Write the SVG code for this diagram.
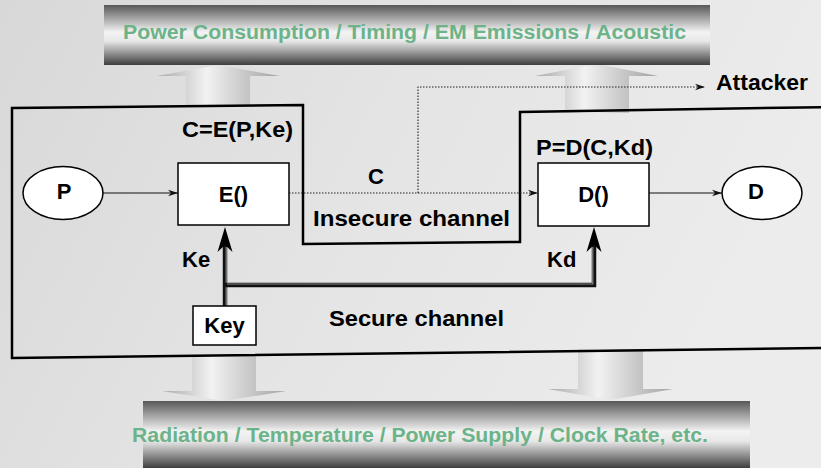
<svg xmlns="http://www.w3.org/2000/svg" width="821" height="468" viewBox="0 0 821 468">
<defs>
<linearGradient id="bg" x1="0" y1="0" x2="1" y2="0.3">
<stop offset="0" stop-color="#d8d8d8"/>
<stop offset="0.5" stop-color="#e4e4e4"/>
<stop offset="1" stop-color="#ececec"/>
</linearGradient>
<linearGradient id="bar" x1="0" y1="0" x2="0" y2="1">
<stop offset="0" stop-color="#585858"/>
<stop offset="0.45" stop-color="#f3f3f3"/>
<stop offset="0.6" stop-color="#e8e8e8"/>
<stop offset="1" stop-color="#3e3e3e"/>
</linearGradient>
<linearGradient id="blk" x1="0" y1="0" x2="1" y2="0">
<stop offset="0" stop-color="#a9a9a9"/>
<stop offset="0.4" stop-color="#f2f2f2"/>
<stop offset="1" stop-color="#a2a2a2"/>
</linearGradient>
<marker id="ah" markerUnits="userSpaceOnUse" markerWidth="11" markerHeight="8" refX="10" refY="4" orient="auto">
<path d="M0,0.8 L10,4 L0,7.2 L3,4 Z" fill="#111"/>
</marker>
<style>
.t{font-family:"Liberation Sans",Arial,sans-serif;font-weight:bold;fill:#000;font-size:22px}
.g{font-family:"Liberation Sans",Arial,sans-serif;font-weight:bold;fill:#6cb389;font-size:20px}
.box{fill:#fff;stroke:#000;stroke-width:1.5}
.thin{fill:none;stroke:#111;stroke-width:1.2}
.dot{fill:none;stroke:#222;stroke-width:1.1;stroke-dasharray:1.5 1.5}
.dbl{fill:none;stroke:#111;stroke-width:4.5}
.dbli{fill:none;stroke:#8c8c8c;stroke-width:1.2}
</style>
</defs>
<rect x="0" y="0" width="821" height="468" fill="url(#bg)"/>
<g id="block-arrows">
<path d="M186,106 V76 H157 L218,65 L280,76 H250 V106 Z" fill="url(#blk)"/>
<path d="M565,113 V76 H535 L597,64 L658,76 H629 V113 Z" fill="url(#blk)"/>
<path d="M192,356 V391 H162 L224,401 L286,391 H256 V356 Z" fill="url(#blk)"/>
<path d="M578,349 V389 H548 L610,400 L673,389 H643 V349 Z" fill="url(#blk)"/>
</g>
<g id="top-bar">
<rect x="104" y="5" width="606" height="60" fill="url(#bar)"/>
<text class="g" x="123" y="39" textLength="563" lengthAdjust="spacingAndGlyphs">Power Consumption / Timing / EM Emissions / Acoustic</text>
</g>
<g id="bottom-bar">
<rect x="143" y="401" width="607" height="67" fill="url(#bar)"/>
<text class="g" x="132" y="442" textLength="576" lengthAdjust="spacingAndGlyphs">Radiation / Temperature / Power Supply / Clock Rate, etc.</text>
</g>
<g id="boundary">
<path d="M830,107 L520,112 L520,242 L303,244 L303,105 L12,108 L12,358 L830,348" fill="none" stroke="#000" stroke-width="2.5" stroke-linejoin="miter"/>
</g>
<g id="connectors">
<line class="thin" x1="103" y1="193" x2="178" y2="193" marker-end="url(#ah)"/>
<line class="thin" x1="649" y1="193" x2="722" y2="193" marker-end="url(#ah)"/>
<line class="dot" x1="289" y1="193" x2="538" y2="193" marker-end="url(#ah)"/>
<path class="dot" d="M418,193 V87 H705" marker-end="url(#ah)"/>
<path class="dbl" d="M225,306 V245"/>
<path class="dbli" d="M226.2,306 V247"/>
<path class="dbl" d="M225,285 H594 V245"/>
<path class="dbli" d="M227,284 H592.8 V247"/>
<path d="M225,227 L232.5,252 L225,245 L217.5,252 Z" fill="#000"/>
<path d="M594,227 L601.5,252 L594,245 L586.5,252 Z" fill="#000"/>
</g>
<g id="node-P">
<ellipse class="box" cx="63" cy="193" rx="40" ry="26.5"/>
<text class="t" x="64" y="199" text-anchor="middle">P</text>
</g>
<g id="node-E">
<rect class="box" x="178" y="163" width="111" height="62"/>
<text class="t" x="233.5" y="202" text-anchor="middle">E()</text>
</g>
<g id="node-D">
<rect class="box" x="538" y="163" width="111" height="63"/>
<text class="t" x="593.5" y="202" text-anchor="middle">D()</text>
</g>
<g id="node-Dout">
<ellipse class="box" cx="762" cy="193" rx="40" ry="26.5"/>
<text class="t" x="756" y="199" text-anchor="middle">D</text>
</g>
<g id="node-Key">
<rect class="box" x="193" y="306" width="63" height="39"/>
<text class="t" x="224.5" y="333" text-anchor="middle">Key</text>
</g>
<g id="labels">
<text class="t" x="182" y="137" textLength="111" lengthAdjust="spacingAndGlyphs">C=E(P,Ke)</text>
<text class="t" x="536" y="155" textLength="117" lengthAdjust="spacingAndGlyphs">P=D(C,Kd)</text>
<text class="t" x="376" y="184" text-anchor="middle">C</text>
<text class="t" x="313" y="226" textLength="197" lengthAdjust="spacingAndGlyphs">Insecure channel</text>
<text class="t" x="716" y="90" textLength="92" lengthAdjust="spacingAndGlyphs">Attacker</text>
<text class="t" x="182" y="267">Ke</text>
<text class="t" x="547" y="267">Kd</text>
<text class="t" x="329" y="326" textLength="175" lengthAdjust="spacingAndGlyphs">Secure channel</text>
</g>
</svg>
